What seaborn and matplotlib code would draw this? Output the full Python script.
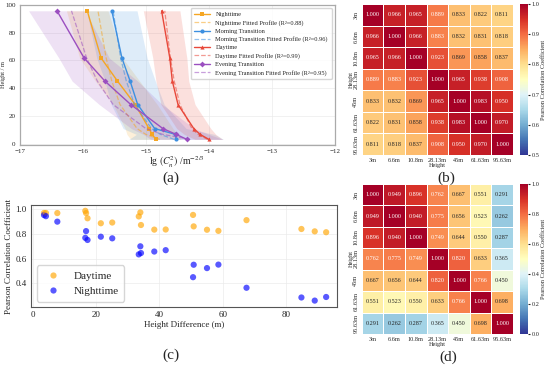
import matplotlib
matplotlib.use("Agg")
import matplotlib.pyplot as plt
import numpy as np
import pandas as pd
import seaborn as sns

sns.set_style("whitegrid")
plt.rcParams['font.family'] = ['Liberation Serif', 'DejaVu Serif']
plt.rcParams['mathtext.fontset'] = 'stix'

# alturas de medicion
alturas = [3, 6.6, 10.8, 28.13, 45, 61.63, 95.63]
etiquetas = ['3m', '6.6m', '10.8m', '28.13m', '45m', '61.63m', '95.63m']

# perfiles lg(Cn2) (a)
noche = [-14.84, -14.90, -14.95, -15.17, -15.45, -15.71, -15.93]
noche_fit = [-14.78, -15.00, -15.14, -15.41, -15.54, -15.63, -15.76]
noche_std = [0.40, 0.40, 0.38, 0.35, 0.35, 0.34, 0.33]
manana = [-14.52, -14.53, -14.86, -15.13, -15.25, -15.38, -15.54]
manana_fit = [-14.55, -14.77, -14.91, -15.18, -15.31, -15.40, -15.52]
manana_std = [0.75, 0.62, 0.50, 0.42, 0.40, 0.40, 0.40]
dia = [-14.00, -14.14, -14.24, -14.49, -14.58, -14.62, -14.75]
dia_fit = [-14.02, -14.17, -14.27, -14.46, -14.55, -14.61, -14.70]
dia_std = [0.22, 0.25, 0.27, 0.27, 0.26, 0.27, 0.29]
tarde = [-14.35, -14.52, -14.73, -15.24, -15.65, -15.98, -16.41]
tarde_fit = [-14.30, -14.73, -15.00, -15.52, -15.77, -15.94, -16.18]
tarde_std = [0.57, 0.52, 0.50, 0.50, 0.52, 0.40, 0.45]

# matrices de correlacion
corr_dia = [
    [1.000, 0.966, 0.965, 0.889, 0.833, 0.822, 0.811],
    [0.966, 1.000, 0.966, 0.883, 0.832, 0.831, 0.818],
    [0.965, 0.966, 1.000, 0.923, 0.869, 0.858, 0.837],
    [0.889, 0.883, 0.923, 1.000, 0.965, 0.938, 0.908],
    [0.833, 0.832, 0.869, 0.965, 1.000, 0.983, 0.950],
    [0.822, 0.831, 0.858, 0.938, 0.983, 1.000, 0.970],
    [0.811, 0.818, 0.837, 0.908, 0.950, 0.970, 1.000]]
corr_noche = [
    [1.000, 0.949, 0.896, 0.762, 0.667, 0.551, 0.291],
    [0.949, 1.000, 0.940, 0.775, 0.656, 0.523, 0.262],
    [0.896, 0.940, 1.000, 0.749, 0.644, 0.550, 0.287],
    [0.762, 0.775, 0.749, 1.000, 0.820, 0.633, 0.365],
    [0.667, 0.656, 0.644, 0.820, 1.000, 0.766, 0.450],
    [0.551, 0.523, 0.550, 0.633, 0.766, 1.000, 0.698],
    [0.291, 0.262, 0.287, 0.365, 0.450, 0.698, 1.000]]

fig = plt.figure(figsize=(5.5, 3.66), dpi=100)

#%% (a) perfiles
ax_a = fig.add_axes([0.036, 0.604, 0.573, 0.383])
series = [
    ('Nighttime', noche, noche_fit, noche_std, '#f5a623', 's', 0.88),
    ('Morning Transition', manana, manana_fit, manana_std, '#3d8fe0', 'o', 0.96),
    ('Daytime', dia, dia_fit, dia_std, '#e8483a', '^', 0.99),
    ('Evening Transition', tarde, tarde_fit, tarde_std, '#9b4fc0', 'D', 0.95),
]
for nombre, v, vf, sd, c, m, r2 in series:
    v = np.array(v)
    sd = np.array(sd)
    ax_a.fill_betweenx(alturas, v - sd, v + sd, color=c, alpha=0.17, lw=0)
    sns.lineplot(x=v, y=alturas, sort=False, estimator=None, ax=ax_a, color=c,
                 marker=m, markersize=3, markeredgewidth=0, lw=1, label=nombre)
    sns.lineplot(x=vf, y=alturas, sort=False, estimator=None, ax=ax_a, color=c,
                 alpha=0.55, lw=0.9, ls='--', label=f'{nombre} Fitted Profile (R²={r2})')
ax_a.set_xlim(-17, -12)
ax_a.set_ylim(-1, 100)
ax_a.set_yticks([0, 20, 40, 60, 80, 100])
ax_a.tick_params(labelsize=5, pad=1, length=2)
ax_a.set_xlabel(r'lg $(C_n^2)$ /m$^{-2/3}$', fontsize=7, labelpad=0)
ax_a.set_ylabel('Height / m', fontsize=4.5, labelpad=0)
ax_a.yaxis.set_label_coords(-0.045, 0.5)
ax_a.grid(True, color='#ebebeb', lw=0.5)
for s in ax_a.spines.values():
    s.set_color('#aaaaaa')
    s.set_linewidth(0.9)
ax_a.legend(loc='upper right', fontsize=4.6, frameon=True, borderpad=0.6,
            labelspacing=0.4, handlelength=2.5, edgecolor='#cccccc')

#%% heatmaps (b) y (d)
def mapa(pos, pos_cb, datos, vmin, vmax, ticks):
    ax = fig.add_axes(pos)
    cax = fig.add_axes(pos_cb)
    df = pd.DataFrame(datos, index=etiquetas, columns=etiquetas)
    sns.heatmap(df, ax=ax, cbar_ax=cax, cmap='RdYlBu_r', vmin=vmin, vmax=vmax,
                annot=True, fmt='.3f', annot_kws={'size': 4.4}, linewidths=0.4,
                linecolor='white', square=False,
                cbar_kws={'ticks': ticks})
    ax.set_xlabel('Height', fontsize=4.5, labelpad=0)
    ax.set_ylabel('Height', fontsize=4.5, labelpad=0)
    ax.tick_params(labelsize=4.5, pad=1, length=1.5)
    ax.set_yticklabels(etiquetas, rotation=90, va='center')
    ax.set_xticklabels(etiquetas, rotation=0)
    cax.tick_params(labelsize=4.5, pad=1, length=1.5)
    cax.set_ylabel('Pearson Correlation Coefficient', fontsize=4.5, labelpad=1)
    return ax

mapa([0.658, 0.5765, 0.2745, 0.4126], [0.946, 0.5765, 0.0145, 0.4126],
     corr_dia, 0.5, 1.0, [0.5, 0.6, 0.7, 0.8, 0.9, 1.0])
mapa([0.658, 0.0874, 0.2745, 0.41], [0.946, 0.0874, 0.0145, 0.41],
     corr_noche, 0.0, 1.0, [0.0, 0.2, 0.4, 0.6, 0.8, 1.0])

#%% (c) correlacion vs diferencia de altura
filas = []
for i in range(len(alturas)):
    for j in range(i + 1, len(alturas)):
        dif = alturas[j] - alturas[i]
        filas.append({'dif': dif, 'r': corr_dia[i][j], 'grupo': 'Daytime'})
        filas.append({'dif': dif, 'r': corr_noche[i][j], 'grupo': 'Nighttime'})
pares = pd.DataFrame(filas)

ax_c = fig.add_axes([0.0564, 0.161, 0.556, 0.279])
sns.scatterplot(data=pares, x='dif', y='r', hue='grupo',
                palette={'Daytime': 'orange', 'Nighttime': 'blue'},
                alpha=0.65, s=20, edgecolor='none', ax=ax_c)
ax_c.set_xlim(-0.5, 96)
ax_c.set_ylim(0.21, 1.03)
ax_c.set_xticks([0, 20, 40, 60, 80])
ax_c.set_yticks([0.4, 0.6, 0.8, 1.0])
ax_c.tick_params(labelsize=6.5, pad=1, length=2)
ax_c.set_xlabel('Height Difference (m)', fontsize=6.5, labelpad=1)
ax_c.set_ylabel('Pearson Correlation Coefficient', fontsize=6.5, labelpad=2)
ax_c.grid(True, color='#ebebeb', lw=0.5)
for s in ax_c.spines.values():
    s.set_color('#555555')
    s.set_linewidth(0.8)
ax_c.legend(loc='lower left', fontsize=8, frameon=True, title=None,
            borderpad=0.5, handletextpad=0.8, edgecolor='#cccccc')

#%% etiquetas de paneles
fig.text(0.311, 0.513, '(a)', fontsize=11, ha='center', va='center')
fig.text(0.811, 0.512, '(b)', fontsize=11, ha='center', va='center')
fig.text(0.311, 0.03, '(c)', fontsize=11, ha='center', va='center')
fig.text(0.815, 0.025, '(d)', fontsize=11, ha='center', va='center')

fig.savefig('out.png', dpi=100)
